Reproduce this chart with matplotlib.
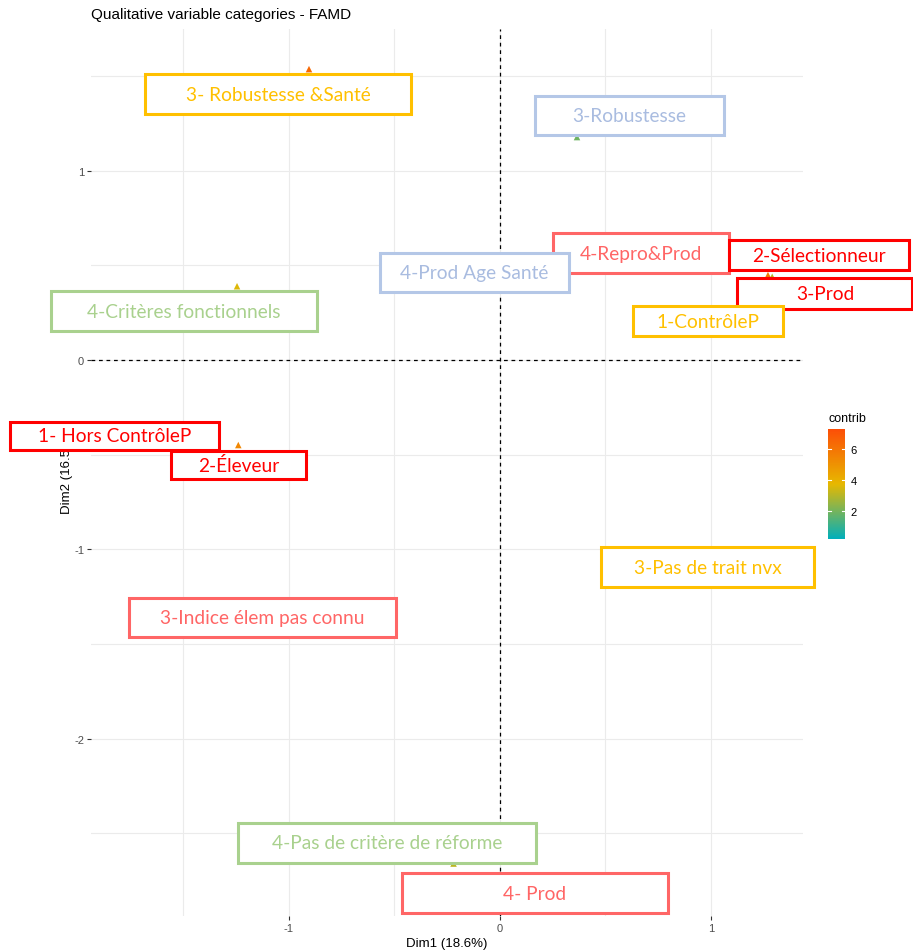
import numpy as np
import matplotlib
matplotlib.use('Agg')
import matplotlib.pyplot as plt
from matplotlib.colors import LinearSegmentedColormap
from matplotlib.patches import Rectangle

plt.rcParams['font.family'] = ['Liberation Sans', 'DejaVu Sans']
plt.rcParams['axes.unicode_minus'] = False

# category points (Dim1, Dim2) and contribution
cat_names = ['3- Robustesse &Santé', '3-Robustesse', '2-Sélectionneur', '3-Prod',
             '4-Critères fonctionnels', '2-Éleveur', '4-Pas de critère de réforme']
dim1 = [-0.905, 0.365, 1.27, 1.29, -1.246, -1.24, -0.22]
dim2 = [1.537, 1.178, 0.449, 0.44, 0.39, -0.449, -2.66]
contrib = [6.4, 1.9, 5.8, 3.0, 3.6, 5.4, 3.1]

# overlaid label boxes (centre x, centre y, width, height in data units)
box_text = ['3- Robustesse &Santé', '3-Robustesse', '4-Repro&Prod', '2-Sélectionneur',
            '3-Prod', '4-Prod Age Santé', '1-ContrôleP', '4-Critères fonctionnels',
            '1- Hors ContrôleP', '2-Éleveur', '3-Pas de trait nvx',
            '3-Indice élem pas connu', '4-Pas de critère de réforme', '4- Prod']
box_x = [-1.052, 0.614, 0.668, 1.512, 1.540, -0.121, 0.986, -1.498,
         -1.827, -1.239, 0.983, -1.126, -0.536, 0.166]
box_y = [1.405, 1.292, 0.565, 0.555, 0.354, 0.462, 0.206, 0.259,
         -0.401, -0.555, -1.094, -1.360, -2.551, -2.816]
box_w = [1.26, 0.896, 0.834, 0.853, 0.829, 0.896, 0.711, 1.26,
         0.99, 0.64, 1.01, 1.265, 1.412, 1.26]
box_h = [0.211, 0.206, 0.211, 0.158, 0.164, 0.206, 0.158, 0.211,
         0.148, 0.148, 0.211, 0.206, 0.211, 0.211]
gold, blue, salmon, red, green = '#FFC000', '#B4C7E7', '#FF6666', '#FF0000', '#A9D18E'
box_col = [gold, blue, salmon, red, red, blue, gold, green,
           red, red, gold, salmon, green, salmon]
txt_col = [gold, '#A9BCE0', salmon, red, red, '#A9BCE0', gold, green,
           red, red, gold, salmon, green, salmon]

cmap = LinearSegmentedColormap.from_list('contrib', ['#00AFBB', '#E7B800', '#FC4E07'])

fig = plt.figure(figsize=(9.13, 9.53), dpi=100)
ax = fig.add_axes([91 / 913, 1 - 917 / 953, (803 - 91) / 913, (917 - 30) / 953])

sc = ax.scatter(dim1, dim2, c=contrib, cmap=cmap, vmin=0.19, vmax=7.3,
                marker='^', s=22, linewidths=0, zorder=3)

ax.axhline(0, color='black', linestyle=(0, (3, 3)), linewidth=0.9, zorder=2)
ax.axvline(0, color='black', linestyle=(0, (3, 3)), linewidth=0.9, zorder=2)

ax.set_xlim(-1.938, 1.436)
ax.set_ylim(-2.937, 1.749)
ax.set_xticks([-1, 0, 1])
ax.set_yticks([-2, -1, 0, 1])
ax.set_xticks([-1.5, -0.5, 0.5], minor=True)
ax.set_yticks([-2.5, -1.5, -0.5, 0.5, 1.5], minor=True)
ax.grid(True, which='both', color='#EBEBEB', linewidth=0.8, zorder=0)
ax.set_axisbelow(True)
for s in ax.spines.values():
    s.set_visible(False)
ax.tick_params(which='major', length=3, color='#333333', labelsize=8,
               labelcolor='#4D4D4D', pad=2)
ax.tick_params(which='minor', length=0)
ax.set_xlabel('Dim1 (18.6%)', fontsize=9.5, labelpad=3)
ax.set_ylabel('Dim2 (16.5%)', fontsize=9.5, labelpad=1)
ax.set_title('Qualitative variable categories - FAMD', fontsize=11, loc='left',
             x=0.0, pad=8)

for t, x, y, w, h, bc, tc in zip(box_text, box_x, box_y, box_w, box_h, box_col, txt_col):
    ax.add_patch(Rectangle((x - w / 2, y - h / 2), w, h, facecolor='white', edgecolor=bc,
                           linewidth=2.2, clip_on=False, zorder=5))
    ax.text(x, y, t, ha='center', va='center', color=tc, fontsize=13.8,
            family='Lato', clip_on=False, zorder=6)

cax = fig.add_axes([828 / 913, 1 - 540 / 953, 17 / 913, 110 / 953])
cb = fig.colorbar(sc, cax=cax)
cb.set_ticks([2, 4, 6])
cb.outline.set_visible(False)
cax.tick_params(length=0, labelsize=8, pad=4)
for v in [2, 4, 6]:
    cax.plot([0, 0.2], [v, v], color='white', linewidth=0.8)
    cax.plot([0.8, 1], [v, v], color='white', linewidth=0.8)
cax.set_title('contrib', fontsize=9, loc='left', pad=6)

fig.savefig('out.png', dpi=100)
